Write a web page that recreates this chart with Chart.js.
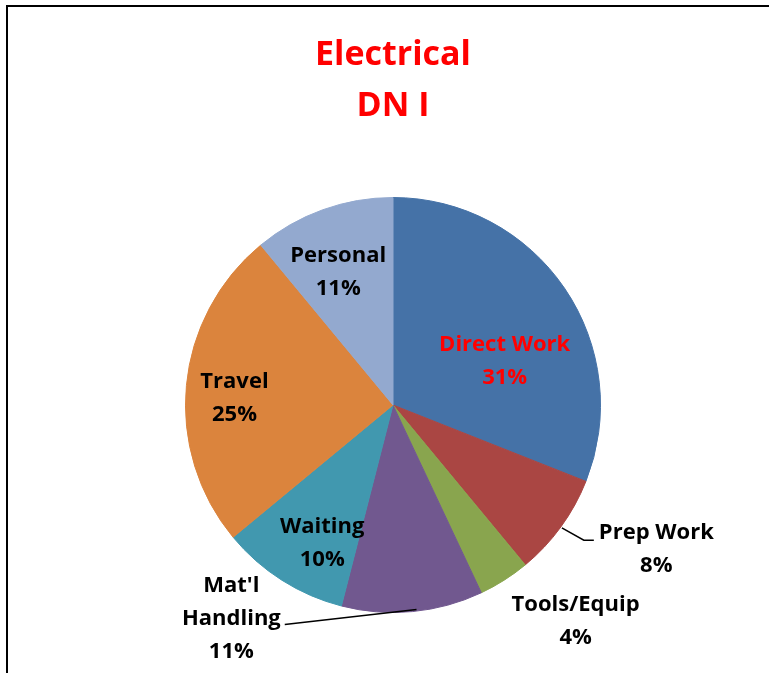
<!DOCTYPE html>
<html>
<head>
<meta charset="utf-8">
<script src="https://cdn.jsdelivr.net/npm/chart.js@4"></script>
<style>
  body { margin: 0; background: #fff; }
  #wrap { position: relative; width: 769px; height: 673px; }
  #frame { position: absolute; left: 6px; top: 5px; right: 0; bottom: 0;
           border-left: 2.5px solid #000; border-top: 2.5px solid #000; }
</style>
</head>
<body>
<div id="wrap">
  <div id="frame"></div>
  <canvas id="pieChart" width="769" height="673"></canvas>
</div>
<script>
// data
const categories = ['Direct Work', 'Prep Work', 'Tools/Equip', "Mat'l Handling", 'Waiting', 'Travel', 'Personal'];
const shares = [31, 8, 4, 11, 10, 25, 11];
const titleLines = ['Electrical', 'DN I'];

const colors = ['#4572A7', '#AA4643', '#89A54E', '#71588F', '#4198AF', '#DB843D', '#93A9CF'];

// label placement, relative to pie centre in units of the radius
const labelSpots = [
    { dx: 0.538, dy: -0.212, lines: ['Direct Work'], color: '#FF0000' },
    { dx: 1.269, dy: 0.697, lines: ['Prep Work'], leader: 'right' },
    { dx: 0.880, dy: 1.043, lines: ['Tools/Equip'] },
    { dx: -0.779, dy: 1.029, lines: ["Mat'l", 'Handling'], leader: 'left' },
    { dx: -0.341, dy: 0.668, lines: ['Waiting'] },
    { dx: -0.764, dy: -0.034, lines: ['Travel'] },
    { dx: -0.264, dy: -0.639, lines: ['Personal'] }
];

const FONT = 'bold 22px "Open Sans", Lato, sans-serif';
const LINE_H = 33;

const labelPlugin = {
    id: 'excelLabels',
    afterDraw(chart) {
        const ctx = chart.ctx;
        const meta = chart.getDatasetMeta(0);
        const total = shares.reduce((a, b) => a + b, 0);

        // title
        ctx.save();
        ctx.fillStyle = '#FF0000';
        ctx.font = 'bold 34px "Open Sans", Lato, sans-serif';
        ctx.textAlign = 'center';
        ctx.textBaseline = 'middle';
        ctx.fillText(titleLines[0], 393, 55);
        ctx.fillText(titleLines[1], 393, 106);
        ctx.restore();

        meta.data.forEach((arc, i) => {
            const cx = arc.x, cy = arc.y, r = arc.outerRadius;
            const spot = labelSpots[i];
            const lx = cx + spot.dx * r;
            const ly = cy + spot.dy * r;
            const pct = Math.round(shares[i] / total * 100) + '%';
            const lines = spot.lines.concat([pct]);

            ctx.save();
            ctx.font = FONT;
            ctx.fillStyle = spot.color || '#000';
            ctx.textAlign = 'center';
            ctx.textBaseline = 'middle';
            const top = ly - (lines.length - 1) * LINE_H / 2;
            lines.forEach((t, k) => ctx.fillText(t, lx, top + k * LINE_H));

            if (spot.leader) {
                const mid = (arc.startAngle + arc.endAngle) / 2;
                const ex = cx + Math.cos(mid) * r;
                const ey = cy + Math.sin(mid) * r;
                ctx.strokeStyle = '#000';
                ctx.lineWidth = 1.5;
                ctx.beginPath();
                if (spot.leader === 'right') {
                    const ty = top + 7;
                    const tx = lx - ctx.measureText(lines[0]).width / 2 - 5;
                    ctx.moveTo(ex + 1, ey + 1);
                    ctx.lineTo(tx - 10, ty);
                    ctx.lineTo(tx, ty);
                } else {
                    const ty = top + LINE_H + 6;
                    const tx = lx + ctx.measureText(lines[1]).width / 2 + 4;
                    ctx.moveTo(tx, ty);
                    ctx.lineTo(ex + 4, ey - 2);
                }
                ctx.stroke();
            }
            ctx.restore();
        });
    }
};

const ctx = document.getElementById('pieChart').getContext('2d');
new Chart(ctx, {
    type: 'pie',
    data: {
        labels: categories,
        datasets: [{
            data: shares,
            backgroundColor: colors,
            borderColor: colors,
            borderWidth: 1
        }]
    },
    options: {
        responsive: false,
        animation: false,
        layout: {
            padding: { left: 185, right: 168, top: 197, bottom: 60 }
        },
        plugins: {
            legend: { display: false },
            tooltip: { enabled: false },
            title: { display: false }
        }
    },
    plugins: [labelPlugin]
});
</script>
</body>
</html>
